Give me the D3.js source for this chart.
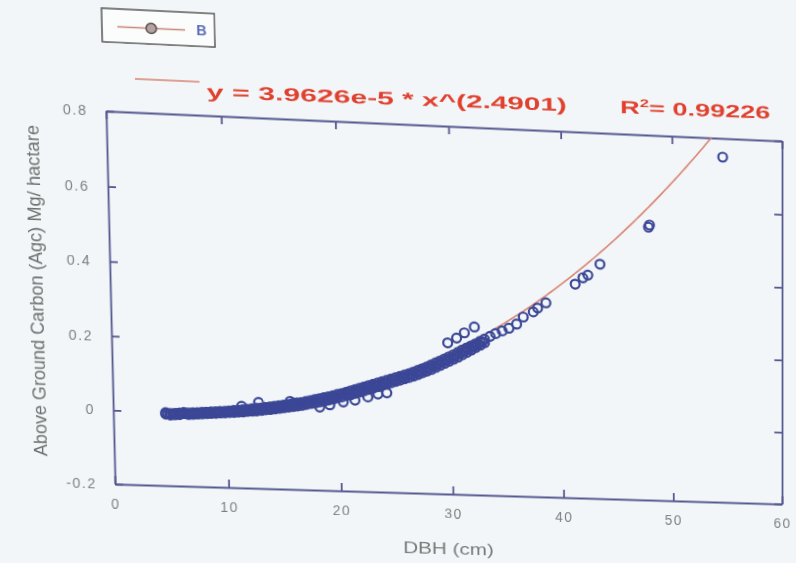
<!DOCTYPE html>
<html>
<head>
<meta charset="utf-8">
<script src="https://cdn.jsdelivr.net/npm/d3@7"></script>
<style>
  body { margin: 0; background: #f2f6f8; }
  svg { display: block; }
  .tick text { font-family: "Liberation Sans", Arial, sans-serif; font-size: 14px; fill: #808080; letter-spacing: 1.5px; }
</style>
</head>
<body>
<div id="chart"></div>
<script>
// [DBH (cm), AGC]
const bandPoints = [
  [4.6,-0.006],[4.6,-0.002],[5.0,-0.004],[5.0,-0.008],[5.4,-0.003],[5.4,-0.007],[5.8,-0.002],[5.8,-0.006],
  [6.2,-0.003],[6.2,0.000],[6.6,-0.001],[6.6,-0.005],[7.0,0.000],[7.0,-0.004],[7.4,0.001],[7.4,-0.003],
  [7.8,0.002],[7.8,-0.002],[8.2,0.003],[8.2,-0.001],[8.6,0.004],[8.6,0.000],[9.0,0.005],[9.0,0.001],
  [9.4,0.006],[9.4,0.002],[9.8,0.007],[9.8,0.003],[10.2,0.008],[10.2,0.004],[10.6,0.010],[10.6,0.005],
  [11.0,0.011],[11.0,0.006],[11.4,0.013],[11.4,0.007],[11.8,0.014],[11.8,0.009],[12.2,0.016],[12.2,0.010],
  [12.6,0.018],[12.6,0.011],[13.0,0.019],[13.0,0.013],[13.4,0.021],[13.4,0.015],[13.8,0.023],[13.8,0.016],
  [14.2,0.025],[14.2,0.018],[14.6,0.027],[14.6,0.020],[15.0,0.029],[15.0,0.022],[15.4,0.031],[15.4,0.024],
  [15.8,0.034],[15.8,0.026],[16.2,0.036],[16.2,0.028],[16.6,0.038],[16.6,0.030],[17.0,0.041],[17.0,0.033],
  [17.4,0.044],[17.4,0.036],[17.8,0.047],[17.8,0.038],[18.2,0.050],[18.2,0.041],[18.6,0.053],[18.6,0.044],
  [19.0,0.056],[19.0,0.047],[19.4,0.059],[19.4,0.050],[19.8,0.063],[19.8,0.054],[20.2,0.066],[20.2,0.057],
  [20.6,0.070],[20.6,0.061],[21.0,0.074],[21.0,0.064],[21.4,0.078],[21.4,0.068],[21.8,0.082],[21.8,0.072],
  [22.2,0.086],[22.2,0.076],[22.6,0.090],[22.6,0.080],[23.0,0.094],[23.0,0.084],[23.4,0.098],[23.4,0.088],
  [23.8,0.102],[23.8,0.092],[24.2,0.106],[24.2,0.096],[24.6,0.110],[24.6,0.100],[25.0,0.114],[25.0,0.104],
  [25.4,0.118],[25.4,0.108],[25.8,0.122],[25.8,0.112],[26.2,0.126],[26.2,0.116],[26.6,0.131],[26.6,0.120],
  [27.0,0.136],[27.0,0.125],[27.4,0.141],[27.4,0.130],[27.8,0.146],[27.8,0.135],[28.2,0.152],[28.2,0.140],
  [28.6,0.158],[28.6,0.146],[29.0,0.164],[29.0,0.152],[29.4,0.170],[29.4,0.158],[29.8,0.176],[29.8,0.164],
  [30.2,0.182],[30.2,0.170],[30.6,0.189],[30.6,0.176],[31.0,0.196],[31.0,0.183],[31.4,0.202],[31.4,0.190],
  [31.8,0.208],[31.8,0.197],[32.2,0.214],[32.2,0.204],[32.6,0.221],[32.6,0.211],[33.0,0.228],[33.0,0.218],
  [33.5,0.236],[34.0,0.244],[34.6,0.252],[35.2,0.260],[35.9,0.272]
];
const bandMiddle = [
  [4.8,-0.005],[5.2,-0.005],[5.6,-0.004],[6.0,-0.003],[6.4,-0.002],[6.8,-0.002],[7.2,-0.001],[7.6,0.000],
  [8.0,0.001],[8.4,0.002],[8.8,0.003],[9.2,0.004],[9.6,0.005],[10.0,0.006],[10.4,0.007],[10.8,0.008],
  [11.2,0.009],[11.6,0.011],[12.0,0.012],[12.4,0.014],[12.8,0.015],[13.2,0.017],[13.6,0.019],[14.0,0.021],
  [14.4,0.023],[14.8,0.025],[15.2,0.027],[15.6,0.029],[16.0,0.031],[16.4,0.033],[16.8,0.036],[17.2,0.038],
  [17.6,0.041],[18.0,0.044],[18.4,0.047],[18.8,0.050],[19.2,0.053],[19.6,0.057],[20.0,0.060],[20.4,0.064],
  [20.8,0.067],[21.2,0.071],[21.6,0.075],[22.0,0.079],[22.4,0.083],[22.8,0.087],[23.2,0.091],[23.6,0.095],
  [24.0,0.099],[24.4,0.103],[24.8,0.107],[25.2,0.111],[25.6,0.115],[26.0,0.119],[26.4,0.123],[26.8,0.128],
  [27.2,0.133],[27.6,0.138],[28.0,0.143],[28.4,0.149],[28.8,0.155],[29.2,0.161],[29.6,0.167],[30.0,0.173],
  [30.4,0.179],[30.8,0.186],[31.2,0.193],[31.6,0.199],[32.0,0.206],[32.4,0.213],[32.8,0.220]
];
const lowerPoints = [[18.2,0.027],[19.1,0.034],[20.3,0.043],[21.35,0.049],[22.5,0.059],[23.4,0.068],[24.2,0.072]];
const upperPoints = [[11.3,0.022],[12.8,0.034],[15.6,0.040],[29.7,0.214],[30.5,0.228],[31.2,0.243],[32.1,0.260]];
const outerPoints = [
  [36.5,0.292],[37.4,0.307],[37.8,0.318],[38.55,0.333],
  [41.2,0.387],[41.9,0.405],[42.35,0.413],[43.45,0.444],
  [47.85,0.550],[47.95,0.556],[54.6,0.749]
];

const xTicks = [0, 10, 20, 30, 40, 50, 60];
const yTicks = [-0.2, 0, 0.2, 0.4, 0.6, 0.8];

// fitted power curve shown on the chart
const fitA = 3.9626e-5, fitB = 2.4901;
const fitText = "y = 3.9626e-5 * x^(2.4901)";
const r2Text = "0.99226";
const seriesName = "B";
const xTitle = "DBH (cm)";
const yTitle = "Above Ground Carbon (Agc) Mg/ hactare";

const width = 796, height = 563;
const plotLeft = 106, plotTop = 111, plotW = 676, plotH = 373;
const axisColor = "#55588f";
const markColor = "#3b4796";
const fitColor = "#d98473";

// the source is a photo of a screen: the plot box lands on these corners (TL, TR, BR, BL)
const photoCorners = [[106, 111], [782, 141], [782, 504], [115, 484]];

function perspective(q, x0, y0, w, h) {
  const [[X0, Y0], [X1, Y1], [X2, Y2], [X3, Y3]] = q;
  const sx = X0 - X1 + X2 - X3, sy = Y0 - Y1 + Y2 - Y3;
  const dx1 = X1 - X2, dx2 = X3 - X2, dy1 = Y1 - Y2, dy2 = Y3 - Y2;
  const den = dx1 * dy2 - dx2 * dy1;
  const g = (sx * dy2 - dx2 * sy) / den;
  const k = (dx1 * sy - sx * dy1) / den;
  const a = X1 - X0 + g * X1, b = X3 - X0 + k * X3;
  const d = Y1 - Y0 + g * Y1, e = Y3 - Y0 + k * Y3;
  const m = [
    a / w, d / w, 0, g / w,
    b / h, e / h, 0, k / h,
    0, 0, 1, 0,
    X0 - a * x0 / w - b * y0 / h, Y0 - d * x0 / w - e * y0 / h, 0, 1 - g * x0 / w - k * y0 / h
  ];
  return `matrix3d(${m.join(",")})`;
}

const svg = d3.select("#chart").append("svg")
  .attr("width", width)
  .attr("height", height)
  .style("transform-origin", "0 0")
  .style("transform", perspective(photoCorners, plotLeft, plotTop, plotW, plotH));

const root = svg.append("g");

const x = d3.scaleLinear().domain([0, 60]).range([plotLeft, plotLeft + plotW]);
const y = d3.scaleLinear().domain([-0.2, 0.8]).range([plotTop + plotH, plotTop]);

root.append("clipPath").attr("id", "plot-clip")
  .append("rect")
  .attr("x", plotLeft).attr("y", plotTop)
  .attr("width", plotW).attr("height", plotH);

// axes, ticks pointing in on all four sides
root.append("g")
  .attr("transform", `translate(0,${plotTop + plotH})`)
  .call(d3.axisBottom(x).tickValues(xTicks).tickSize(-8).tickSizeOuter(0).tickPadding(15).tickFormat(d => d));
root.append("g")
  .attr("transform", `translate(0,${plotTop})`)
  .call(d3.axisTop(x).tickValues(xTicks).tickSize(-8).tickSizeOuter(0).tickFormat(""));
root.append("g")
  .attr("transform", `translate(${plotLeft},0)`)
  .call(d3.axisLeft(y).tickValues(yTicks).tickSize(-8).tickSizeOuter(0).tickPadding(18)
    .tickFormat(d => d === 0 ? "0" : String(d)));
root.append("g")
  .attr("transform", `translate(${plotLeft + plotW},0)`)
  .call(d3.axisRight(y).tickValues(yTicks).tickSize(-8).tickSizeOuter(0).tickFormat(""));
root.selectAll(".domain, .tick line")
  .attr("stroke", axisColor)
  .attr("stroke-width", 1.8);

// fit curve (under the markers)
const fitXs = d3.range(4.5, 60.01, 0.25);
const fitLine = d3.line()
  .x(d => x(d))
  .y(d => y(fitA * Math.pow(d, fitB)));
root.append("path")
  .attr("clip-path", "url(#plot-clip)")
  .attr("d", fitLine(fitXs))
  .attr("fill", "none")
  .attr("stroke", fitColor)
  .attr("stroke-width", 1.6);

// points
const allPoints = bandPoints.concat(bandMiddle, lowerPoints, upperPoints, outerPoints);
root.append("g")
  .attr("clip-path", "url(#plot-clip)")
  .selectAll("circle")
  .data(allPoints)
  .enter()
  .append("circle")
  .attr("cx", d => x(d[0]))
  .attr("cy", d => y(d[1]))
  .attr("r", 4.5)
  .attr("fill", "none")
  .attr("stroke", markColor)
  .attr("stroke-width", 2.2);

// equation
root.append("line")
  .attr("x1", 135).attr("y1", 78).attr("x2", 198).attr("y2", 78)
  .attr("stroke", fitColor).attr("stroke-width", 1.5);
const eq = root.append("g")
  .attr("transform", "translate(205,93.4) rotate(-0.45)")
  .style("font-family", "Liberation Sans, Arial, sans-serif")
  .style("font-size", "18px").style("font-weight", "bold")
  .attr("fill", "#e0412f");
eq.append("text")
  .attr("x", 0).attr("y", 0)
  .attr("textLength", 358)
  .attr("lengthAdjust", "spacingAndGlyphs")
  .text(fitText);
const r2 = eq.append("text")
  .attr("x", 412).attr("y", 0)
  .attr("textLength", 153)
  .attr("lengthAdjust", "spacingAndGlyphs");
r2.append("tspan").text("R");
r2.append("tspan").attr("dy", -7).style("font-size", "11px").text("2");
r2.append("tspan").attr("dy", 7).text("= " + r2Text);

// axis titles
root.append("text")
  .attr("x", 439).attr("y", 546)
  .attr("text-anchor", "middle")
  .attr("textLength", 92)
  .attr("lengthAdjust", "spacingAndGlyphs")
  .style("font-family", "Liberation Sans, Arial, sans-serif")
  .style("font-size", "17px")
  .attr("fill", "#7a7a7a")
  .text(xTitle);
root.append("text")
  .attr("transform", "translate(33,293) rotate(-90)")
  .attr("text-anchor", "middle")
  .attr("dy", "0.35em")
  .attr("textLength", 330)
  .attr("lengthAdjust", "spacingAndGlyphs")
  .style("font-family", "Liberation Sans Narrow, Liberation Sans, Arial, sans-serif")
  .style("font-size", "19px")
  .attr("fill", "#6f6f6f")
  .text(yTitle);

// legend
const legend = root.append("g");
legend.append("rect")
  .attr("x", 104).attr("y", 10).attr("width", 110).attr("height", 33)
  .attr("fill", "#fbfdfd").attr("stroke", "#5a5a5a").attr("stroke-width", 1.5);
legend.append("line")
  .attr("x1", 119).attr("y1", 27.5).attr("x2", 185).attr("y2", 27.5)
  .attr("stroke", "#c9877a").attr("stroke-width", 1.5);
legend.append("circle")
  .attr("cx", 152).attr("cy", 27.5).attr("r", 5)
  .attr("fill", "#b3a3a0").attr("stroke", "#5b5050").attr("stroke-width", 1.5);
legend.append("text")
  .attr("x", 196).attr("y", 27.5).attr("dy", "0.35em")
  .style("font-family", "Liberation Sans, Arial, sans-serif")
  .style("font-size", "14px").style("font-weight", "bold")
  .attr("fill", "#5b6bb5")
  .text(seriesName);
</script>
</body>
</html>
